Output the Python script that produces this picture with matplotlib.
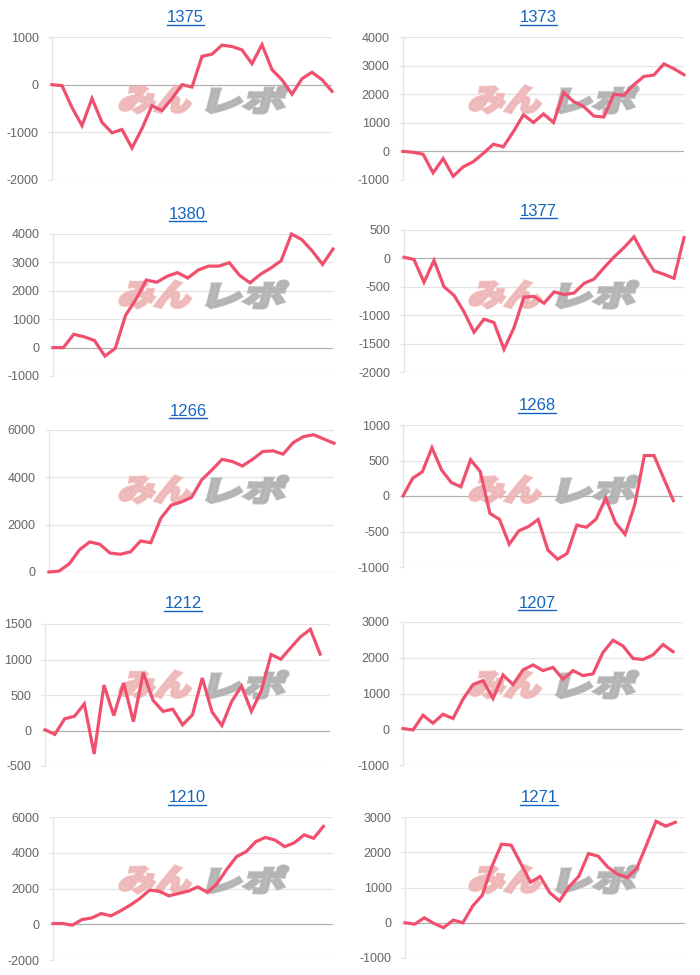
import matplotlib
matplotlib.use("Agg")
import matplotlib.pyplot as plt
from matplotlib.textpath import TextPath
from matplotlib.font_manager import FontProperties
from matplotlib.patches import PathPatch
from matplotlib.transforms import Affine2D, IdentityTransform
from matplotlib.lines import Line2D
import numpy as np

# ---------------- data ----------------
titles = ['1375', '1373', '1380', '1377', '1266', '1268', '1212', '1207', '1210', '1271']

s1375 = [0, -20, -480, -860, -290, -790, -1010, -940, -1330, -920, -440, -545, -290, 0, -50,
         595, 640, 830, 800, 730, 440, 840, 315, 100, -200, 125, 260, 105, -140]
s1373 = [0, -30, -100, -750, -250, -870, -540, -360, -70, 250, 160, 690, 1280, 1010, 1310,
         1010, 2060, 1740, 1570, 1240, 1200, 2000, 1960, 2330, 2620, 2670, 3060, 2890, 2680]
s1380 = [0, 0, 470, 380, 250, -300, -30, 1140, 1700, 2380, 2300, 2510, 2640, 2450, 2730,
         2870, 2870, 2990, 2540, 2280, 2580, 2800, 3060, 4000, 3800, 3400, 2930, 3470]
s1377 = [20, -20, -420, -35, -500, -650, -940, -1300, -1070, -1130, -1600, -1220, -680, -670,
         -790, -590, -635, -610, -440, -365, -165, 25, 190, 380, 60, -220, -280, -350, 365]
s1266 = [0, 40, 350, 940, 1270, 1170, 800, 750, 850, 1310, 1240, 2280, 2820, 2960, 3150,
         3890, 4310, 4760, 4670, 4480, 4760, 5090, 5120, 4980, 5470, 5720, 5800, 5620, 5440]
s1268 = [0, 250, 340, 680, 365, 190, 130, 510, 345, -245, -330, -680, -490, -430, -330,
         -760, -890, -810, -410, -440, -325, -30, -375, -540, -125, 570, 570, 250, -65]
s1212 = [10, -55, 165, 200, 375, -330, 640, 210, 670, 125, 815, 425, 270, 300, 80, 220,
         740, 260, 70, 410, 625, 270, 555, 1070, 1005, 1165, 1320, 1425, 1075]
s1207 = [20, -20, 390, 170, 420, 300, 840, 1250, 1360, 860, 1520, 1250, 1660, 1800, 1640,
         1730, 1400, 1640, 1500, 1550, 2150, 2490, 2330, 1980, 1950, 2080, 2370, 2170]
s1210 = [40, 40, -50, 260, 350, 600, 470, 750, 1070, 1440, 1910, 1850, 1590, 1720, 1850,
         2090, 1780, 2280, 3070, 3780, 4060, 4620, 4860, 4710, 4340, 4560, 5000, 4810, 5470]
s1271 = [0, -40, 140, -20, -140, 75, 0, 470, 780, 1600, 2230, 2200, 1680, 1150, 1310, 850,
         620, 1020, 1320, 1960, 1890, 1580, 1380, 1280, 1540, 2200, 2880, 2740, 2850]

series = [s1375, s1373, s1380, s1377, s1266, s1268, s1212, s1207, s1210, s1271]
# number of x-axis label slots per chart
n_labels = [29, 29, 28, 29, 29, 30, 30, 29, 30, 30]
# y-axis ticks (min, max, step)
y_min = [-2000, -1000, -1000, -2000, 0, -1000, -500, -1000, -2000, -1000]
y_max = [1000, 4000, 4000, 500, 6000, 1000, 1500, 3000, 6000, 3000]
y_step = [1000, 1000, 1000, 500, 2000, 500, 500, 1000, 2000, 1000]

# ---------------- layout (pixels) ----------------
W, H = 700, 975
# left, top, right, bottom of plot area
boxes = [(52, 37, 332, 180), (403, 37, 684, 180),
         (53, 234, 333, 376), (404, 230, 684, 372),
         (49, 430, 334, 572), (403, 425, 683, 567),
         (45, 624, 330, 766), (403, 622, 683, 765),
         (53, 817, 333, 960), (405, 817, 685, 958)]
title_pos = [(185, 18), (538, 18), (187, 214), (538, 211), (188, 411),
             (537, 406), (183, 604), (537, 603), (187, 798), (539, 798)]

LINE = '#f0506e'
TITLE = '#1565c0'
GRID = '#e4e4e4'
ZERO = '#b0b0b0'
TICK = '#666666'

fig = plt.figure(figsize=(W / 100, H / 100), dpi=100)
fig.patch.set_facecolor('white')

wm_font = FontProperties(family=['Noto Sans CJK JP'], weight='black')


def add_watermark(ax, text, x0, x1, ytop, ybot, color, alpha):
    tp = TextPath((0, 0), text, prop=wm_font, size=1)
    ext = tp.get_extents()
    w = x1 - x0
    h = ybot - ytop
    shear = 0.25
    tr = (Affine2D().translate(-ext.x0, -ext.y0)
          .scale((w - shear * h) / ext.width, h / ext.height)
          .skew(np.arctan(shear), 0)
          .translate(x0, H - ybot))
    path = tr.transform_path(tp)
    patch = PathPatch(path, facecolor=color, edgecolor=color, linewidth=2.2,
                      joinstyle='miter', alpha=alpha,
                      transform=IdentityTransform(), zorder=1, clip_on=False)
    ax.add_artist(patch)


title_texts = []
for i, (vals, box) in enumerate(zip(series, boxes)):
    l, t, r, b = box
    ax = fig.add_axes([l / W, 1 - b / H, (r - l) / W, (b - t) / H])
    ax.set_facecolor('none')
    x = np.arange(len(vals))
    ax.plot(x, vals, color=LINE, lw=2.3, solid_joinstyle='miter', zorder=3,
            clip_on=False)
    ax.set_xlim(0, n_labels[i] - 1)
    ax.set_ylim(y_min[i], y_max[i])
    ticks = np.arange(y_min[i], y_max[i] + 1, y_step[i])
    ax.set_yticks(ticks)
    ax.set_yticklabels([str(int(v)) for v in ticks])
    ax.set_xticks([])
    for tv in ticks:
        ax.axhline(tv, color=ZERO if tv == 0 else GRID, lw=0.9, zorder=0)
    for s in ['top', 'right', 'bottom']:
        ax.spines[s].set_visible(False)
    ax.spines['left'].set_color(GRID)
    ax.spines['left'].set_linewidth(0.9)
    ax.tick_params(axis='y', length=3, width=0.9, color=GRID, pad=6.5,
                   labelsize=9, labelcolor=TICK)
    for lab in ax.get_yticklabels():
        lab.set_family(['Liberation Sans', 'DejaVu Sans'])

    col = i % 2
    row = i // 2
    ox = 350 * col
    oy = 195 * row
    add_watermark(ax, 'みん', ox + 118, ox + 195, oy + 86, oy + 113, '#eeb4b4', 0.85)
    add_watermark(ax, 'レポ', ox + 206, ox + 289, oy + 86, oy + 113, '#b2b2b2', 0.9)

    tx, ty = title_pos[i]
    tt = fig.text(tx / W, 1 - ty / H, titles[i], ha='center', va='center',
                  color=TITLE, fontsize=12, family=['Liberation Sans', 'DejaVu Sans'])
    title_texts.append(tt)

fig.canvas.draw()
renderer = fig.canvas.get_renderer()
for tt in title_texts:
    bb = tt.get_window_extent(renderer)
    yline = bb.y0 + 1
    fig.add_artist(Line2D([bb.x0, bb.x1], [yline, yline], color=TITLE, lw=1.0,
                          transform=IdentityTransform()))

fig.savefig('out.png', dpi=100, facecolor='white')
